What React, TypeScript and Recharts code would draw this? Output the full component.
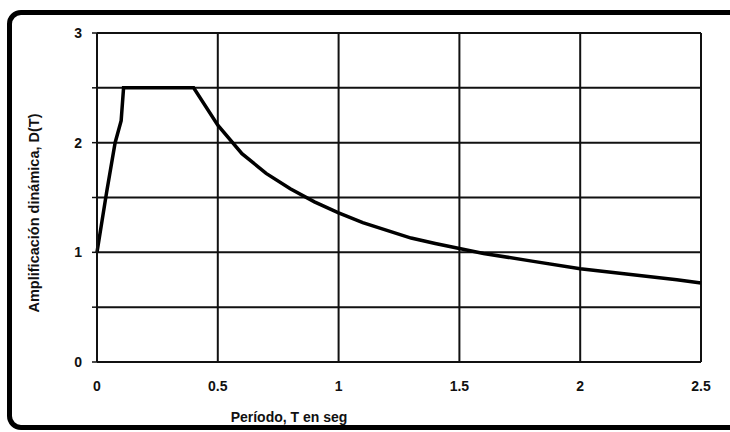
import { LineChart, Line, XAxis, YAxis, CartesianGrid } from 'recharts';

// Period T (s) and dynamic amplification D(T)
const periods = [0, 0.04, 0.075, 0.1, 0.11, 0.4, 0.5, 0.6, 0.7, 0.8, 0.9, 1.0, 1.1, 1.2, 1.3, 1.4, 1.6, 1.8, 2.0, 2.2, 2.4, 2.5];
const amplification = [1.0, 1.55, 2.0, 2.2, 2.5, 2.5, 2.16, 1.9, 1.72, 1.58, 1.46, 1.36, 1.27, 1.2, 1.13, 1.08, 0.99, 0.92, 0.85, 0.8, 0.75, 0.72];

const xTicks = [0, 0.5, 1, 1.5, 2, 2.5];
const yTicks = [0, 0.5, 1, 1.5, 2, 2.5, 3];

const data = periods.map((t, i) => ({ t, d: amplification[i] }));

const font = '"Liberation Sans", Arial, sans-serif';

export default function App() {
    return (
        <div style={{ position: 'absolute', left: 0, top: 0, width: 730, height: 432, overflow: 'hidden', background: '#fff' }}>
            <div
                style={{
                    position: 'absolute',
                    left: 7,
                    top: 10,
                    width: 780,
                    height: 420,
                    boxSizing: 'border-box',
                    border: '5px solid #000',
                    borderRadius: 14
                }}
            />
            <div style={{ position: 'absolute', left: 0, top: 0 }}>
                <LineChart width={730} height={432} data={data} margin={{ top: 33, right: 29, left: 37, bottom: 0 }}>
                    <CartesianGrid stroke="#111" strokeWidth={2} vertical horizontal />
                    <XAxis
                        dataKey="t"
                        type="number"
                        height={70}
                        domain={[0, 2.5]}
                        ticks={xTicks}
                        tickFormatter={(v) => String(v)}
                        axisLine={{ stroke: '#111', strokeWidth: 2 }}
                        tickLine={false}
                        tickMargin={13}
                        tick={{ fontSize: 14, fill: '#111', fontFamily: font, fontWeight: 'bold' }}
                        label={{
                            value: 'Período, T en seg',
                            position: 'insideBottom',
                            offset: 10,
                            dx: -110,
                            style: { fontSize: 14, fontWeight: 'bold', fill: '#111', fontFamily: font }
                        }}
                    />
                    <YAxis
                        type="number"
                        width={60}
                        domain={[0, 3]}
                        ticks={yTicks}
                        interval={0}
                        tickFormatter={(v) => (Number.isInteger(v) ? String(v) : '')}
                        axisLine={{ stroke: '#111', strokeWidth: 2 }}
                        tickLine={{ stroke: '#111', strokeWidth: 1.5 }}
                        tickSize={5}
                        tickMargin={10}
                        tick={{ fontSize: 14, fill: '#111', fontFamily: font, fontWeight: 'bold' }}
                        label={{
                            value: 'Amplificación dinámica, D(T)',
                            angle: -90,
                            position: 'insideLeft',
                            dx: -8,
                            dy: 115,
                            style: { fontSize: 14.5, fontWeight: 'bold', fill: '#111', fontFamily: font }
                        }}
                    />
                    <Line
                        type="linear"
                        dataKey="d"
                        stroke="#000"
                        strokeWidth={3.5}
                        dot={false}
                        isAnimationActive={false}
                    />
                </LineChart>
            </div>
        </div>
    );
}
